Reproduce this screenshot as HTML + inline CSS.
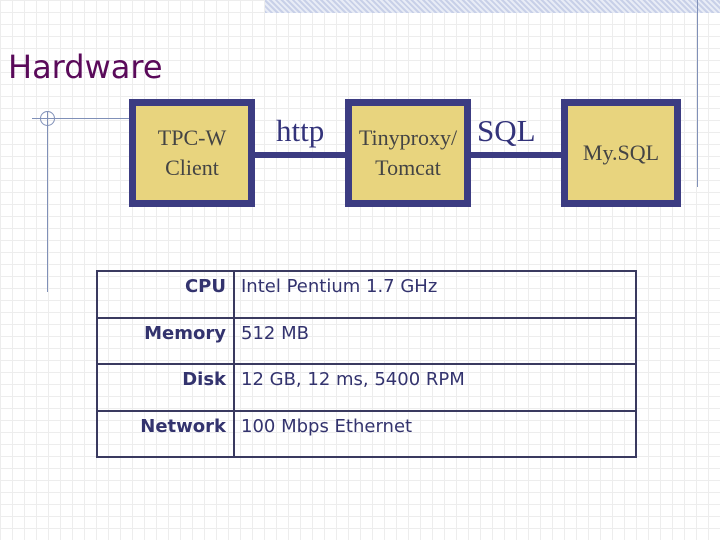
<!DOCTYPE html>
<html><head><style>
body{margin:0;width:720px;height:540px;overflow:hidden;position:relative;background:#fff;
background-image:linear-gradient(to right,#ededed 1px,transparent 1px),linear-gradient(to bottom,#ededed 1px,transparent 1px);background-size:12px 12px;font-family:"Liberation Sans",sans-serif}
.a{position:absolute}
.box{position:absolute;top:99px;height:94px;background:#e8d47e;border:7px solid #3c3c82;font-family:"Liberation Serif",serif;color:#444;font-size:22px;line-height:30px;text-align:center;display:flex;align-items:center;justify-content:center}
.lab{position:absolute;font-family:"Liberation Serif",serif;color:#33337a;font-size:31px}
table{position:absolute;left:96px;top:270px;width:541px;height:188px;border-collapse:collapse;background:transparent;font-family:"DejaVu Sans",sans-serif;font-size:18px;color:#33336e}
td{border:2px solid #3a3a60;vertical-align:top;padding:4px 5px 0 6px}
td.k{text-align:right;font-weight:bold;width:122px;padding-right:7px}
</style></head><body>
<div class="a" style="left:265px;top:0;width:455px;height:13px;background:repeating-linear-gradient(45deg,#c8d0e8 0 2px,#e8ecf6 2px 4px)"></div>
<div class="a" style="left:697px;top:0;width:1px;height:187px;background:#8090b8"></div>
<div class="a" style="left:8px;top:48px;font-family:'DejaVu Sans',sans-serif;font-size:32px;color:#5a0a5a">Hardware</div>
<div class="a" style="left:32px;top:118px;width:97px;height:1px;background:#8090b8"></div>
<div class="a" style="left:47px;top:112px;width:1px;height:180px;background:#8090b8"></div>
<div class="a" style="left:40px;top:111px;width:13px;height:13px;border:1px solid #8090b8;border-radius:50%"></div>
<div class="a" style="left:255px;top:152px;width:90px;height:6px;background:#3c3c82"></div>
<div class="a" style="left:471px;top:152px;width:90px;height:6px;background:#3c3c82"></div>
<div class="box" style="left:129px;width:112px">TPC-W<br>Client</div>
<div class="box" style="left:345px;width:112px">Tinyproxy/<br>Tomcat</div>
<div class="box" style="left:561px;width:106px">My.SQL</div>
<div class="lab" style="left:276px;top:113px">http</div>
<div class="lab" style="left:477px;top:113px">SQL</div>
<table>
<tr><td class="k">CPU</td><td>Intel Pentium 1.7 GHz</td></tr>
<tr><td class="k">Memory</td><td>512 MB</td></tr>
<tr><td class="k">Disk</td><td>12 GB, 12 ms, 5400 RPM</td></tr>
<tr><td class="k">Network</td><td>100 Mbps Ethernet</td></tr>
</table>
</body></html>
